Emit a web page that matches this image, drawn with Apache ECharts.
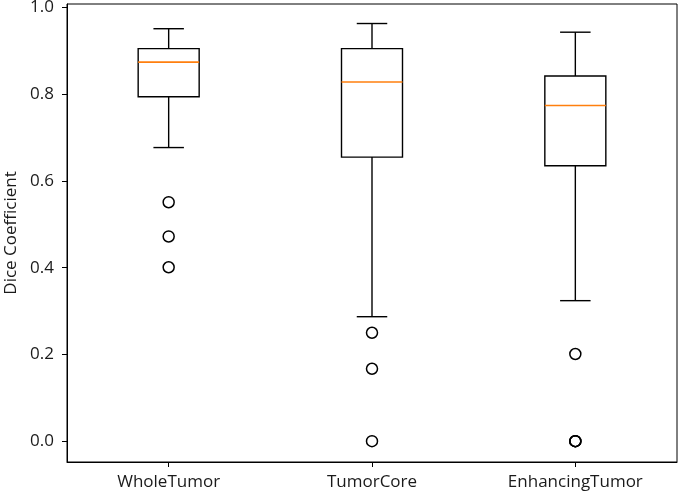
<!DOCTYPE html>
<html>
<head>
<meta charset="utf-8">
<script src="https://cdn.jsdelivr.net/npm/echarts@6/dist/echarts.min.js"></script>
<style>
html,body{margin:0;padding:0;background:#fff;}
#chart{width:685px;height:493px;}
</style>
</head>
<body>
<div id="chart"></div>
<script>
const categories = ['WholeTumor', 'TumorCore', 'EnhancingTumor'];
const whiskerLow = [0.677, 0.287, 0.324];
const q1 = [0.794, 0.655, 0.635];
const median = [0.874, 0.828, 0.774];
const q3 = [0.905, 0.905, 0.842];
const whiskerHigh = [0.951, 0.963, 0.943];
const outliersWhole = [0.551, 0.472, 0.401];
const outliersCore = [0.250, 0.167, 0.0];
const outliersEnhancing = [0.201, 0.0, 0.0, 0.0];
const yTicks = [0, 0.2, 0.4, 0.6, 0.8, 1.0];

const boxData = categories.map((c, i) => [i, whiskerLow[i], q1[i], median[i], q3[i], whiskerHigh[i]]);
const outlierData = [];
[outliersWhole, outliersCore, outliersEnhancing].forEach((arr, i) => {
  arr.forEach(v => outlierData.push([i, v]));
});

const chart = echarts.init(document.getElementById('chart'));
const lineStyle = { stroke: '#000', lineWidth: 1.4, fill: null };
const FONT = 'Open Sans';

chart.setOption({
  animation: false,
  backgroundColor: '#fff',
  grid: { left: 67, right: 8, top: 4, bottom: 31, containLabel: false, outerBoundsMode: 'none', show: true, borderColor: '#000', borderWidth: 1, backgroundColor: 'transparent' },
  xAxis: {
    type: 'category',
    data: categories,
    boundaryGap: true,
    axisLine: { show: true, onZero: false, lineStyle: { color: '#000', width: 1 } },
    axisTick: { show: true, alignWithLabel: true, length: 5, lineStyle: { color: '#000' } },
    axisLabel: { color: '#1a1a1a', fontSize: 17, fontFamily: FONT, margin: 12 },
    splitLine: { show: false }
  },
  yAxis: {
    type: 'value',
    min: -0.048,
    max: 1.008,
    name: 'Dice Coefficient',
    nameLocation: 'middle',
    nameGap: 46,
    nameTextStyle: { color: '#1a1a1a', fontSize: 17, fontFamily: FONT },
    axisLine: { show: true, lineStyle: { color: '#000', width: 1 } },
    axisTick: { show: true, length: 5, lineStyle: { color: '#000' }, customValues: yTicks },
    axisLabel: { color: '#1a1a1a', fontSize: 17, fontFamily: FONT, margin: 13, customValues: yTicks, formatter: v => v.toFixed(1) },
    splitLine: { show: false }
  },
  series: [
    {
      type: 'custom',
      data: boxData,
      clip: false,
      renderItem: function (params, api) {
        const idx = api.value(0);
        const band = api.size([1, 0])[0];
        const half = band * 0.15;
        const capHalf = half / 2;
        const c = api.coord([idx, api.value(3)]);
        const x = c[0];
        const yLow = api.coord([idx, api.value(1)])[1];
        const yQ1 = api.coord([idx, api.value(2)])[1];
        const yMed = c[1];
        const yQ3 = api.coord([idx, api.value(4)])[1];
        const yHigh = api.coord([idx, api.value(5)])[1];
        return {
          type: 'group',
          children: [
            { type: 'line', shape: { x1: x, y1: yQ1, x2: x, y2: yLow }, style: lineStyle },
            { type: 'line', shape: { x1: x, y1: yQ3, x2: x, y2: yHigh }, style: lineStyle },
            { type: 'line', shape: { x1: x - capHalf, y1: yLow, x2: x + capHalf, y2: yLow }, style: lineStyle },
            { type: 'line', shape: { x1: x - capHalf, y1: yHigh, x2: x + capHalf, y2: yHigh }, style: lineStyle },
            { type: 'rect', shape: { x: x - half, y: yQ3, width: half * 2, height: yQ1 - yQ3 }, style: { stroke: '#000', lineWidth: 1.4, fill: 'transparent' } },
            { type: 'line', shape: { x1: x - half, y1: yMed, x2: x + half, y2: yMed }, style: { stroke: '#ff7f0e', lineWidth: 1.6 } }
          ]
        };
      }
    },
    {
      type: 'scatter',
      data: outlierData,
      symbol: 'circle',
      symbolSize: 11,
      clip: false,
      itemStyle: { color: 'rgba(0,0,0,0)', borderColor: '#000', borderWidth: 1.5, opacity: 1 }
    }
  ]
});
</script>
</body>
</html>
